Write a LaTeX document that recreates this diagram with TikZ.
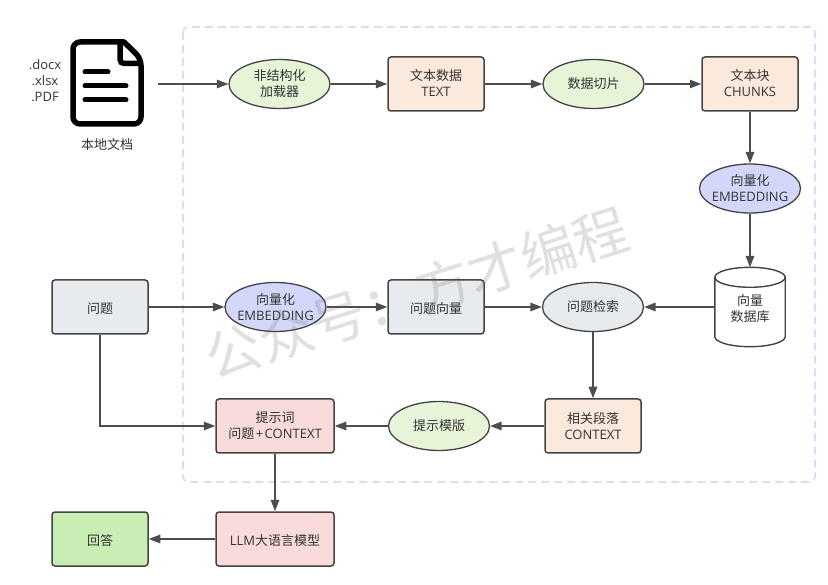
\documentclass[tikz,border=0pt]{standalone}
\usepackage{fontspec}
\setmainfont{Open Sans}
\newfontfamily\cjk{Noto Sans CJK SC}
\usetikzlibrary{shapes.geometric,arrows.meta,calc}
\definecolor{linec}{HTML}{4D4D4D}
\definecolor{edgec}{HTML}{444444}
\definecolor{txt}{HTML}{333333}
\definecolor{cgreen}{HTML}{E6F5D8}
\definecolor{cpeach}{HTML}{FBE9DB}
\definecolor{cblue}{HTML}{D3D8FB}
\definecolor{cgrey}{HTML}{E7EBEF}
\definecolor{cpink}{HTML}{FADBDB}
\definecolor{canswer}{HTML}{C9EEB3}
\definecolor{cdash}{HTML}{DCDCF9}
\newcommand{\dnone}{\rule{0pt}{14pt}}
\newcommand{\upone}{\rule[-2pt]{0pt}{0pt}}
\tikzset{
 lab/.style={text=txt,font=\fontsize{13}{16}\selectfont,align=center},
 boxn/.style={lab,draw=edgec,line width=1.5pt,rounded corners=3pt,minimum width=96pt,minimum height=54pt,inner sep=0pt},
 ell/.style={lab,ellipse,draw=edgec,line width=1.3pt,minimum width=101pt,minimum height=49pt,inner ysep=0pt,inner xsep=-12pt},
 conn/.style={draw=linec,line width=1.5pt,-{Triangle[length=11.5pt,width=8.5pt]}},
 plain/.style={lab,inner sep=0pt},
 docline/.style={line width=5pt,line cap=round},
}
\begin{document}
\begin{tikzpicture}[x=1pt,y=-1pt]
\path[use as bounding box,fill=white] (0,0) rectangle (828,585);
\draw[cdash,line width=1.6pt,dash pattern=on 8pt off 5pt,rounded corners=5pt] (183,27) rectangle (815,482);

% document icon
\draw[black,line width=5.5pt,line join=round,rounded corners=7pt] (124,42) -- (73,42) -- (73,124) -- (141,124) -- (141,58.5) [sharp corners] -- (124,42) -- cycle;
\draw[black,line width=5.5pt,rounded corners=4pt] (120,42) -- (120,63.5) -- (141,63.5);
\draw[black,docline] (85,72) -- (108,72);
\draw[black,docline] (85,86) -- (126,86);
\draw[black,docline] (85,100) -- (126,100);
\node[plain] (ext) at (45,81) {.docx\\.xlsx\\.PDF};
\node[plain] (doc) at (107,145) {\cjk 本地文档};
\coordinate (docout) at (158,84);

\node[ell,fill=cgreen] (loader) at (279.5,84) {\cjk 非结构化\\\cjk 加载器};
\node[boxn,fill=cpeach] (text) at (436,84) {{\cjk 文本数据}\\TEXT\upone};
\node[ell,fill=cgreen] (split) at (593.5,84) {\cjk 数据切片};
\node[boxn,fill=cpeach] (chunks) at (750,84) {{\cjk 文本块}\\CHUNKS\upone};
\node[ell,fill=cblue] (emb1) at (750,188.5) {{\cjk 向量化}\\EMBEDDING};
\node[plain,minimum width=70pt,minimum height=79pt] (db) at (750,307) {};
\coordinate (dbnw) at ($(db.north west)+(0,10)$);
\coordinate (dbne) at ($(db.north east)+(0,10)$);
\coordinate (dbsw) at ($(db.south west)+(0,-10)$);
\coordinate (dbse) at ($(db.south east)+(0,-10)$);
\draw[edgec,line width=1.4pt,fill=white] (dbnw) .. controls +(0,-5.5) and +(-19.3,0) .. (db.north) .. controls +(19.3,0) and +(0,-5.5) .. (dbne) -- (dbse) .. controls +(0,5.5) and +(19.3,0) .. (db.south) .. controls +(-19.3,0) and +(0,5.5) .. (dbsw) -- cycle;
\draw[edgec,line width=1.4pt] (dbnw) .. controls +(0,5.5) and +(-19.3,0) .. ($(db.north)+(0,20)$) .. controls +(19.3,0) and +(0,5.5) .. (dbne);
\node[plain] (dbt) at (750,309) {\cjk 向量\\\cjk 数据库};

\node[boxn,fill=cgrey] (q) at (100,307) {\dnone\cjk 问题};
\node[ell,fill=cblue] (emb2) at (275.5,307) {{\cjk 向量化}\\EMBEDDING};
\node[boxn,fill=cgrey] (qv) at (436,307) {\dnone\cjk 问题向量};
\node[ell,fill=cgrey] (search) at (593,307) {\cjk 问题检索};
\node[boxn,fill=cpeach] (ctx) at (593,426) {{\cjk 相关段落}\\CONTEXT};
\node[ell,fill=cgreen] (tpl) at (439,426) {\cjk 提示模版};
\node[boxn,fill=cpink,minimum width=118pt] (prompt) at (275,426) {{\cjk 提示词}\\{\cjk 问题}\kern1.5pt+\kern1.5pt CONTEXT};
\node[boxn,fill=cpink,minimum width=118pt] (llm) at (275,539) {\dnone LLM{\cjk 大语言模型}};
\node[boxn,fill=canswer] (ans) at (100,539) {\dnone\cjk 回答};

\draw[conn] (docout) -- (loader.west);
\draw[conn] (loader) -- (text);
\draw[conn] (text) -- (split);
\draw[conn] (split) -- (chunks);
\draw[conn] (chunks) -- (emb1);
\draw[conn] (emb1) -- (db.north);
\draw[conn] (db.west) -- (search.east);
\draw[conn] (q) -- (emb2);
\draw[conn] (emb2) -- (qv);
\draw[conn] (qv) -- (search);
\draw[conn] (search) -- (ctx);
\draw[conn] (ctx) -- (tpl);
\draw[conn] (tpl) -- (prompt);
\draw[conn] (q.south) |- (prompt.west);
\draw[conn] (prompt) -- (llm);
\draw[conn] (llm) -- (ans);

\node[text=black!60,opacity=0.2,rotate=17.6,font=\fontsize{55}{60}\selectfont] (wm) at (417,293) {\cjk 公众号：方才编程};
\end{tikzpicture}
\end{document}
